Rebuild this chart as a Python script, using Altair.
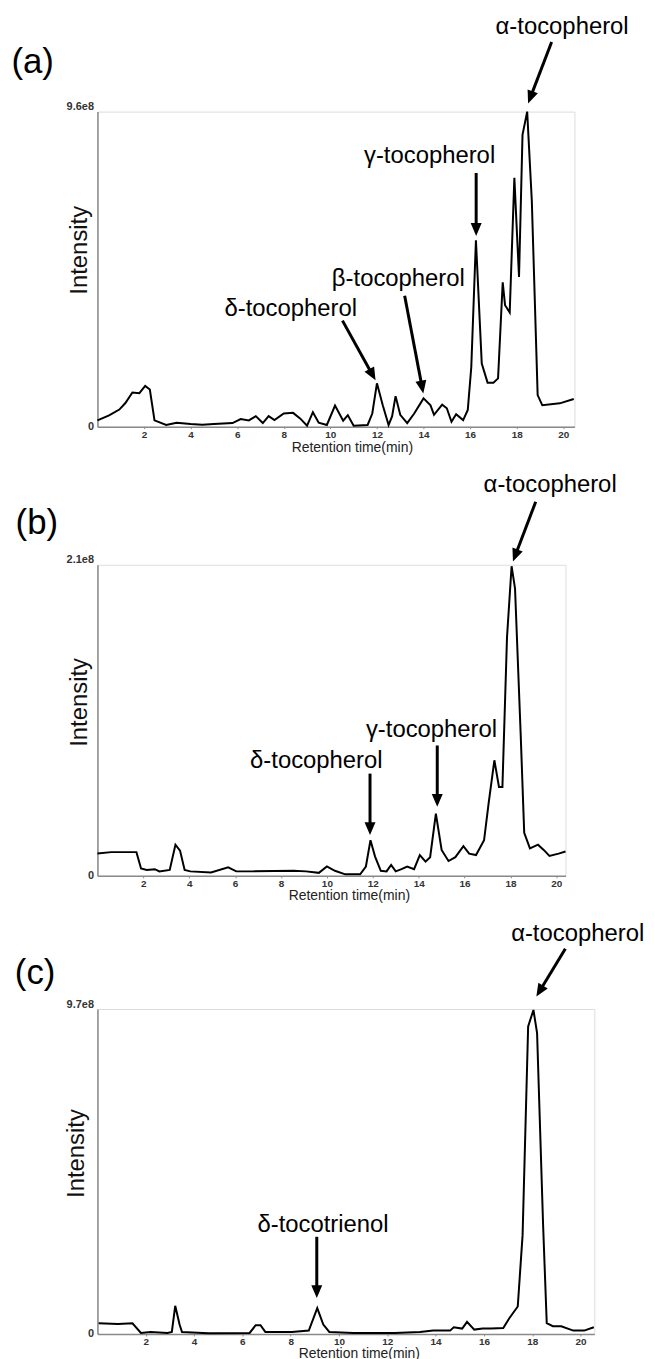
import math
import altair as alt
import pandas as pd

FONT = "Liberation Sans"

# ---------------- panel (a) ----------------
times_a = [0.0, 0.5, 0.94, 1.2, 1.5, 1.8, 2.05, 2.25, 2.45, 2.95, 3.4, 4.0, 4.5, 5.0, 5.8,
           6.15, 6.5, 6.8, 7.1, 7.35, 7.6, 8.0, 8.4, 8.7, 9.0, 9.25, 9.5, 9.85, 10.2, 10.55,
           10.75, 11.0, 11.6, 11.8, 12.0, 12.25, 12.5, 12.65, 12.8, 13.0, 13.3, 13.6, 14.0,
           14.3, 14.45, 14.8, 15.0, 15.2, 15.4, 15.7, 15.9, 16.05, 16.25, 16.5, 16.75, 17.0,
           17.2, 17.4, 17.5, 17.7, 17.9, 18.1, 18.25, 18.45, 18.65, 18.9, 19.1, 19.85, 20.45]
# intensity in units of 1e8
intensity_a = [0.19, 0.34, 0.52, 0.72, 1.04, 1.02, 1.24, 1.13, 0.19, 0.05, 0.12, 0.08, 0.06, 0.08,
               0.11, 0.23, 0.19, 0.32, 0.11, 0.32, 0.20, 0.40, 0.42, 0.25, 0.03, 0.44, 0.12, 0.05,
               0.64, 0.18, 0.35, 0.03, 0.05, 0.40, 1.32, 0.65, 0.05, 0.31, 0.93, 0.36, 0.11, 0.40,
               0.86, 0.65, 0.36, 0.67, 0.56, 0.15, 0.38, 0.20, 0.51, 1.81, 5.68, 1.92, 1.34, 1.34,
               1.47, 4.40, 3.70, 3.48, 7.58, 4.56, 8.89, 9.60, 6.87, 0.96, 0.65, 0.71, 0.84]
ymax_a = 9.6
xmax_a = 20.48
ylabels_a = ["0", "9.6e8"]
tag_a = "(a)"
tag_pos_a = (-2.78, 11.12)
names_a = ["α-tocopherol", "γ-tocopherol", "β-tocopherol", "δ-tocopherol"]
name_t_a = [19.95, 14.26, 12.92, 8.30]
name_v_a = [12.18, 8.24, 4.50, 3.59]
arrow_t0_a = [19.50, 16.26, 13.19, 10.52]
arrow_v0_a = [11.72, 7.73, 3.99, 3.23]
arrow_t1_a = [18.49, 16.26, 13.99, 11.94]
arrow_v1_a = [9.85, 5.81, 1.01, 1.41]

# ---------------- panel (b) ----------------
times_b = [0.0, 0.6, 1.7, 1.9, 2.15, 2.5, 2.7, 3.15, 3.4, 3.6, 3.8, 4.05, 4.95, 5.7, 6.05, 6.75,
           8.55, 9.1, 9.65, 10.0, 10.35, 10.8, 11.45, 11.7, 11.9, 12.1, 12.35, 12.6, 12.8, 13.0,
           13.25, 13.5, 13.8, 14.05, 14.3, 14.5, 14.75, 15.0, 15.3, 15.6, 15.95, 16.2, 16.5,
           16.85, 17.05, 17.3, 17.5, 17.65, 17.85, 18.05, 18.2, 18.45, 18.6, 18.85, 19.2, 19.45,
           19.7, 20.1, 20.4]
intensity_b = [0.15, 0.16, 0.16, 0.05, 0.04, 0.045, 0.03, 0.04, 0.21, 0.17, 0.04, 0.03, 0.023,
               0.057, 0.03, 0.03, 0.035, 0.03, 0.02, 0.063, 0.034, 0.01, 0.01, 0.063, 0.24, 0.13,
               0.034, 0.03, 0.074, 0.03, 0.045, 0.063, 0.045, 0.14, 0.096, 0.126, 0.42, 0.175,
               0.10, 0.126, 0.20, 0.15, 0.14, 0.24, 0.49, 0.78, 0.60, 0.60, 1.61, 2.09, 1.94, 0.94,
               0.29, 0.185, 0.21, 0.175, 0.134, 0.15, 0.164]
ymax_b = 2.1
xmax_b = 20.40
ylabels_b = ["0", "2.1e8"]
tag_b = "(b)"
tag_pos_b = (-2.64, 2.38)
names_b = ["α-tocopherol", "γ-tocopherol", "δ-tocopherol"]
name_t_b = [19.73, 14.56, 9.54]
name_v_b = [2.637, 0.987, 0.775]
arrow_t0_b = [19.10, 14.81, 11.88]
arrow_v0_b = [2.525, 0.880, 0.690]
arrow_t1_b = [18.11, 14.81, 11.88]
arrow_v1_b = [2.122, 0.466, 0.275]

# ---------------- panel (c) ----------------
times_c = [0.05, 0.85, 1.45, 1.8, 2.2, 2.9, 3.08, 3.22, 3.4, 3.5, 4.6, 6.3, 6.55, 6.75, 6.95,
           8.05, 8.75, 9.1, 9.35, 9.6, 10.6, 12.3, 13.35, 13.9, 14.6, 14.75, 15.1, 15.3, 15.6,
           15.95, 16.3, 16.8, 17.05, 17.4, 17.6, 17.83, 18.05, 18.2, 18.45, 18.6, 18.85, 19.2,
           19.7, 20.15, 20.55]
intensity_c = [0.32, 0.30, 0.32, 0.03, 0.06, 0.03, 0.06, 0.84, 0.28, 0.06, 0.02, 0.03, 0.26, 0.26,
               0.06, 0.06, 0.10, 0.77, 0.28, 0.06, 0.03, 0.03, 0.06, 0.10, 0.10, 0.20, 0.16, 0.36,
               0.13, 0.16, 0.16, 0.18, 0.47, 0.82, 2.95, 9.18, 9.67, 8.98, 3.24, 0.32, 0.23, 0.23,
               0.10, 0.10, 0.20]
ymax_c = 9.7
xmax_c = 20.57
ylabels_c = ["0", "9.7e8"]
tag_c = "(c)"
tag_pos_c = (-2.58, 10.76)
names_c = ["α-tocopherol", "δ-tocotrienol"]
name_t_c = [19.88, 9.34]
name_v_c = [11.94, 3.24]
arrow_t0_c = [19.37, 9.08]
arrow_v0_c = [11.50, 2.90]
arrow_t1_c = [18.17, 9.08]
arrow_v1_c = [10.07, 1.07]

x_ticks = [2, 4, 6, 8, 10, 12, 14, 16, 18, 20]
HEAD = "M -0.85 -1 L 0.85 -1 L 0 1 Z"
HEAD_R = 6.5


def panel(times, vals, ymax, xmax, width, height, ylabels, tag, tag_pos,
          names, nt, nv, t0, v0, t1, v1, ytx, yty, xtx, xty):
    sx = width / xmax
    sy = height / ymax
    line_df = pd.DataFrame({"t": times, "v": vals})
    text_df = pd.DataFrame({"t": nt + [tag_pos[0]], "v": nv + [tag_pos[1]],
                            "label": names + [tag],
                            "size": [24] * len(names) + [35]})
    # arrows: compute head centre and angle in pixel space
    rows_s, rows_h = [], []
    for a, b, c, d in zip(t0, v0, t1, v1):
        dx = (c - a) * sx
        dy = -(d - b) * sy
        L = math.hypot(dx, dy)
        ux, uy = dx / L, dy / L
        hc_t = c - ux * HEAD_R / sx
        hc_v = d + uy * HEAD_R / sy
        ang = math.degrees(math.atan2(-dx, dy)) % 360
        rows_s.append({"t": a, "v": b, "t2": hc_t, "v2": hc_v})
        rows_h.append({"t": hc_t, "v": hc_v, "ang": ang})
    shaft_df = pd.DataFrame(rows_s)
    head_df = pd.DataFrame(rows_h)

    xaxis = alt.Axis(values=x_ticks, title="Retention time(min)", grid=False,
                     titleFont=FONT, titleFontSize=14, titleFontWeight="normal",
                     titleColor="#222", titleX=xtx, titleY=xty, titleAlign="center",
                     titleBaseline="middle",
                     labelFont=FONT, labelFontSize=10, labelFontWeight="bold",
                     labelColor="#333", labelPadding=1, tickSize=2, tickColor="#888",
                     domainColor="#8a8a8a", domainWidth=1.5)
    lab_expr = f"datum.value == 0 ? '{ylabels[0]}' : '{ylabels[1]}'"
    yaxis = alt.Axis(values=[0, ymax], labelExpr=lab_expr, ticks=False, grid=False,
                     title="Intensity", titleFont=FONT, titleFontSize=24,
                     titleFontWeight="normal", titleColor="#111", titleX=ytx, titleY=yty,
                     titleAngle=270, titleAlign="center", titleBaseline="middle",
                     labelFont=FONT, labelFontSize=11, labelFontWeight="bold",
                     labelColor="#333", labelPadding=4,
                     labelBaseline=alt.condition("datum.value > 0", alt.value("bottom"),
                                                 alt.value("middle")),
                     domainColor="#8a8a8a", domainWidth=1.5)
    xs = alt.Scale(domain=[0, xmax], nice=False, zero=False)
    ys = alt.Scale(domain=[0, ymax], nice=False)
    X = alt.X("t:Q", scale=xs, axis=xaxis)
    Y = alt.Y("v:Q", scale=ys, axis=yaxis)

    line = alt.Chart(line_df).mark_line(color="black", strokeWidth=2).encode(x=X, y=Y)
    text = alt.Chart(text_df).mark_text(font=FONT, align="center", baseline="middle",
                                        color="black").encode(
        x=X, y=Y, text="label:N", size=alt.Size("size:Q", scale=None, legend=None))
    shafts = alt.Chart(shaft_df).mark_rule(color="black", strokeWidth=3).encode(
        x=X, y=Y, x2="t2:Q", y2="v2:Q")
    heads = alt.Chart(head_df).mark_point(shape=HEAD, size=(2 * HEAD_R) ** 2, filled=True,
                                          color="black", opacity=1).encode(
        x=X, y=Y, angle=alt.Angle("ang:Q", scale=None))
    return alt.layer(line, shafts, heads, text).properties(width=width, height=height)


pa = panel(times_a, intensity_a, ymax_a, xmax_a, 480, 317, ylabels_a, tag_a, tag_pos_a,
           names_a, name_t_a, name_v_a, arrow_t0_a, arrow_v0_a, arrow_t1_a, arrow_v1_a,
           -18, 139, 256, 21)
pb = panel(times_b, intensity_b, ymax_b, xmax_b, 471, 313, ylabels_b, tag_b, tag_pos_b,
           names_b, name_t_b, name_v_b, arrow_t0_b, arrow_v0_b, arrow_t1_b, arrow_v1_b,
           -18, 138, 253, 20)
pc = panel(times_c, intensity_c, ymax_c, xmax_c, 500, 327, ylabels_c, tag_c, tag_pos_c,
           names_c, name_t_c, name_v_c, arrow_t0_c, arrow_v0_c, arrow_t1_c, arrow_v1_c,
           -21, 145, 263, 20)

chart = alt.vconcat(pa, pb, pc, spacing=17).properties(
    padding={"left": 2, "top": 2, "right": 2, "bottom": 2}
).configure_view(strokeWidth=0).configure(font=FONT, background="white")

chart.save("out.html", embed_options={"renderer": "svg", "actions": False})
